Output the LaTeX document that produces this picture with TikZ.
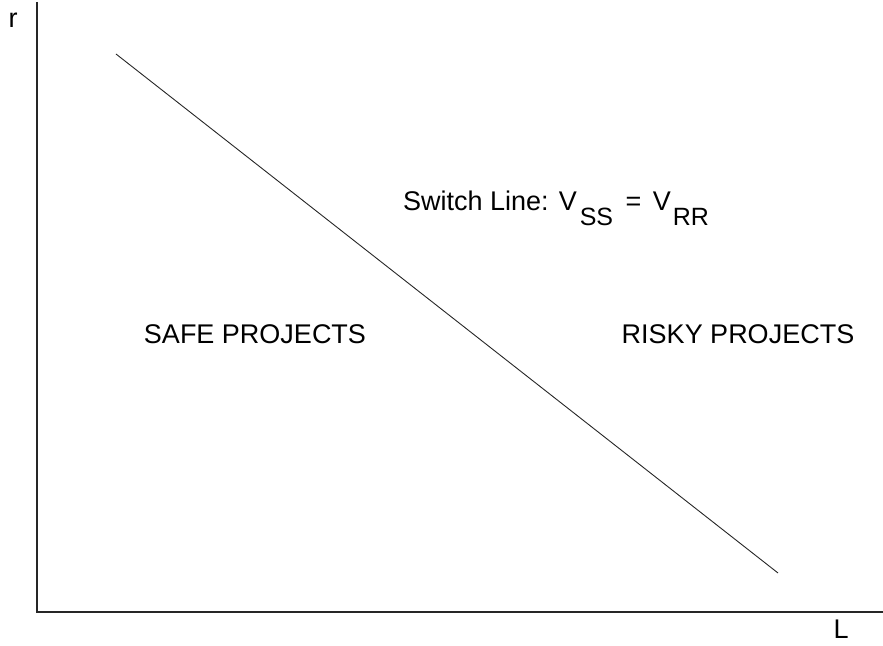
\documentclass[tikz,border=0pt]{standalone}
\usepackage{fontspec}
\setmainfont{Liberation Sans}
\newcommand{\lowsub}[1]{\raisebox{-15pt}{\fontsize{25}{27}\selectfont #1}}
\begin{document}
\begin{tikzpicture}[x=1pt,y=1pt,
  lbl/.style={inner sep=0pt,font=\fontsize{27}{30}\selectfont},
  axis/.style={line width=1.4pt,draw=black!85},
  thin/.style={line width=0.9pt,draw=black!85}]
\useasboundingbox (0,0) rectangle (883,645);
\coordinate (top) at (37,643);
\coordinate (org) at (37,33);
\coordinate (xend) at (883,33);
\draw[axis] (top) -- (org) -- (xend);
\coordinate (s1) at (116,591);
\coordinate (s2) at (778,72);
\draw[thin] (s1) -- (s2);
\node[lbl] (r) at (13,625) {r};
\node[lbl] (L) at (841,16) {L};
\node[lbl] (safe) at (255,311) {SAFE PROJECTS};
\node[lbl] (risky) at (738,311) {RISKY PROJECTS};
\node[lbl,anchor=base west] (sw) at (403,434) {Switch Line: V\hspace{3pt}\lowsub{SS}\hspace{5pt} = \hspace{4pt}V\hspace{2pt}\lowsub{RR}};
\end{tikzpicture}
\end{document}
